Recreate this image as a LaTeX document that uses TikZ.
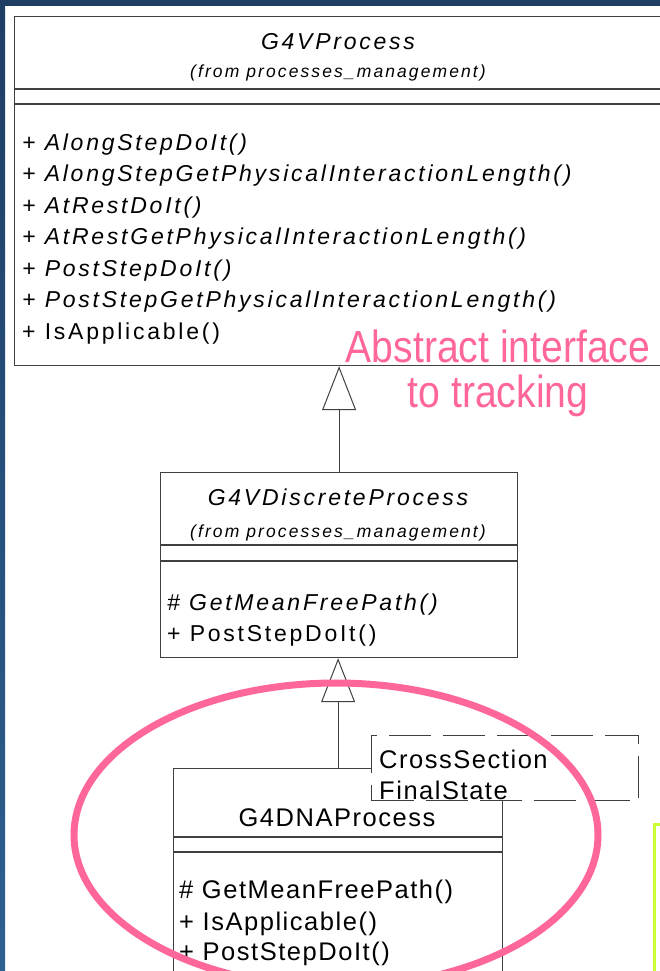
\documentclass[tikz,border=0pt]{standalone}
\usepackage{fontspec}
\setmainfont{Liberation Sans}
\newfontfamily\rosefont[LetterSpace=12]{Liberation Sans}
\newfontfamily\dnafont[LetterSpace=6]{Liberation Sans}
\newfontfamily\narrowfont[FakeStretch=0.87]{Liberation Sans}
\usetikzlibrary{arrows.meta,positioning}
\definecolor{navy}{RGB}{30,62,100}
\definecolor{navylight}{RGB}{46,96,145}
\definecolor{umlgray}{RGB}{64,64,64}
\definecolor{hilite}{RGB}{255,102,153}
\definecolor{notegreen}{RGB}{204,255,51}

\begin{document}
\begin{tikzpicture}[x=1pt,y=-1pt,
  cls/.style={draw=umlgray,line width=1.2pt,fill=white,inner sep=0pt,anchor=north west},
  sep/.style={draw=umlgray,line width=1.2pt},
  ttl/.style={font=\rosefont\itshape\fontsize{23}{26}\selectfont,anchor=base,inner sep=0pt},
  sub/.style={font=\rosefont\itshape\fontsize{17.5}{20}\selectfont,anchor=base,inner sep=0pt},
  opi/.style={font=\rosefont\itshape\fontsize{23}{26}\selectfont,anchor=base west,inner sep=0pt},
  op/.style={font=\rosefont\fontsize{23}{26}\selectfont,anchor=base west,inner sep=0pt},
  dna/.style={font=\dnafont\fontsize{25.5}{31}\selectfont,anchor=base west,inner sep=0pt},
  par/.style={dna,fill=white},
  inh/.style={draw=umlgray,line width=1pt,-{Triangle[open,length=44pt,width=34pt]}},
  pinktxt/.style={font=\narrowfont\fontsize{45}{45}\selectfont,text=hilite,anchor=base,inner sep=0pt}]
\useasboundingbox (0,0) rectangle (660,971);
\fill[white] (0,0) rectangle (660,971);
\fill[navy] (0,0) rectangle (660,6);
\shade[top color=navy,bottom color=navylight] (0,0) rectangle (5,971);

\node(VP)[cls,minimum width=700pt,minimum height=349pt] at (14,16){};
\draw[sep]([yshift=-73pt]VP.north west)--([yshift=-73pt]VP.north east);
\draw[sep]([yshift=-88pt]VP.north west)--([yshift=-88pt]VP.north east);
\node(VPn)[ttl] at (338,50){G4VProcess};
\node(VPf)[sub] at (338,78){(from processes\_management)};
\node(op1)[opi] at (22,150){+ AlongStepDoIt()};
\node(op2)[opi] at (22,181.5){+ AlongStepGetPhysicalInteractionLength()};
\node(op3)[opi] at (22,213){+ AtRestDoIt()};
\node(op4)[opi] at (22,244.5){+ AtRestGetPhysicalInteractionLength()};
\node(op5)[opi] at (22,276){+ PostStepDoIt()};
\node(op6)[opi] at (22,307.5){+ PostStepGetPhysicalInteractionLength()};
\node(op7)[op] at (22,339){+ IsApplicable()};

\node(AI)[pinktxt] at (498,362){Abstract interface};
\node(TT)[pinktxt] at (498,407){to tracking};

\node(VDP)[cls,minimum width=357pt,minimum height=185pt] at (160,472){};
\draw[sep]([yshift=-73pt]VDP.north west)--([yshift=-73pt]VDP.north east);
\draw[sep]([yshift=-89pt]VDP.north west)--([yshift=-89pt]VDP.north east);
\node(VDPn)[ttl] at (338,505){G4VDiscreteProcess};
\node(VDPf)[sub] at (338,537){(from processes\_management)};
\node(dop1)[opi] at (167,610){\# GetMeanFreePath()};
\node(dop2)[op] at (167,641){+ PostStepDoIt()};

\node(DNA)[cls,minimum width=329pt,minimum height=232pt] at (173,768){};
\draw[sep]([yshift=-69pt]DNA.north west)--([yshift=-69pt]DNA.north east);
\draw[sep]([yshift=-84pt]DNA.north west)--([yshift=-84pt]DNA.north east);
\node(DNAn)[dna,anchor=base] at (337,826){G4DNAProcess};
\node(nop1)[dna] at (179,898){\# GetMeanFreePath()};
\node(nop2)[dna] at (179,930){+ IsApplicable()};
\node(nop3)[dna] at (179,960){+ PostStepDoIt()};

\node(TP)[cls,dash pattern=on 42pt off 12pt,line width=1.1pt,minimum width=267pt,minimum height=65pt] at (371,735){};
\node(CS)[par] at (379,768){CrossSection};
\node(FS)[par] at (379,799){FinalState};

\node(NB)[draw=notegreen,line width=3pt,minimum width=100pt,minimum height=300pt,anchor=north west] at (653,823){};

\draw[inh](VDP.north)--(VDP.north|-VP.south);
\draw[inh](DNA.north)--(DNA.north|-VDP.south);

\draw[hilite,line width=7pt](336,835) ellipse [x radius=262pt,y radius=152pt];
\end{tikzpicture}
\end{document}
